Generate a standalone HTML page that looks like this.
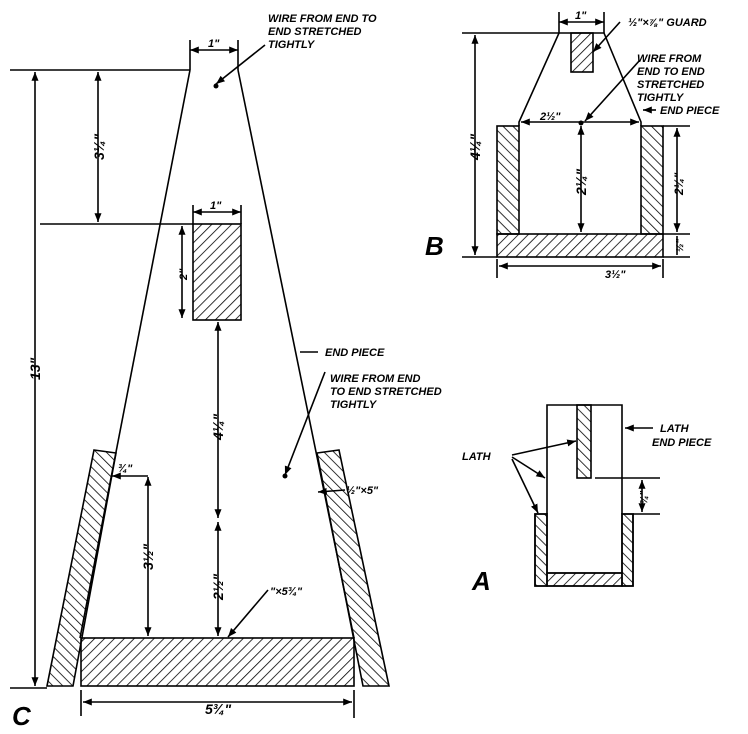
<!DOCTYPE html>
<html><head><meta charset="utf-8"><style>
body{margin:0;background:#fff}
svg{display:block}
text{font-family:"Liberation Sans",sans-serif;font-style:italic;font-weight:bold;fill:#000}
</style></head><body>
<svg width="748" height="734" viewBox="0 0 748 734" xmlns="http://www.w3.org/2000/svg">
<defs>
<pattern id="hf" width="7" height="7" patternUnits="userSpaceOnUse" patternTransform="rotate(45)"><line x1="0" y1="0" x2="0" y2="7" stroke="#000" stroke-width="1.6"/></pattern>
<pattern id="hb" width="7" height="7" patternUnits="userSpaceOnUse" patternTransform="rotate(-45)"><line x1="0" y1="0" x2="0" y2="7" stroke="#000" stroke-width="1.6"/></pattern>
<marker id="a" viewBox="0 0 10 10" refX="10" refY="5" markerWidth="5.5" markerHeight="5.5" orient="auto-start-reverse"><path d="M0,1 L10,5 L0,9 z" fill="#000"/></marker>
</defs>
<g stroke="#000" stroke-width="1.6" fill="none">
<!-- C -->
<line x1="190" y1="70" x2="80" y2="638"/>
<line x1="238" y1="70" x2="354" y2="638"/>
<polygon points="94,450 116,453 73,686 47,686" fill="url(#hb)"/>
<polygon points="317,453 339,450 389,686 363,686" fill="url(#hb)"/>
<rect x="81" y="638" width="273" height="48" fill="url(#hf)"/>
<rect x="193" y="224" width="48" height="96" fill="url(#hf)"/>
<line x1="10" y1="70" x2="190" y2="70"/>
<line x1="10" y1="688" x2="47" y2="688"/>
<line x1="35" y1="72" x2="35" y2="686" marker-start="url(#a)" marker-end="url(#a)"/>
<line x1="40" y1="224" x2="193" y2="224"/>
<line x1="98" y1="72" x2="98" y2="222" marker-start="url(#a)" marker-end="url(#a)"/>
<line x1="190" y1="40" x2="190" y2="70"/><line x1="238" y1="40" x2="238" y2="70"/>
<line x1="190" y1="50" x2="238" y2="50" marker-start="url(#a)" marker-end="url(#a)"/>
<line x1="193" y1="205" x2="193" y2="224"/><line x1="241" y1="205" x2="241" y2="224"/>
<line x1="193" y1="212" x2="241" y2="212" marker-start="url(#a)" marker-end="url(#a)"/>
<line x1="182" y1="226" x2="182" y2="318" marker-start="url(#a)" marker-end="url(#a)"/>
<line x1="218" y1="322" x2="218" y2="518" marker-start="url(#a)" marker-end="url(#a)"/>
<line x1="218" y1="522" x2="218" y2="636" marker-start="url(#a)" marker-end="url(#a)"/>
<line x1="148" y1="477" x2="148" y2="636" marker-start="url(#a)" marker-end="url(#a)"/>
<line x1="112" y1="476" x2="148" y2="476" marker-start="url(#a)"/>
<line x1="81" y1="690" x2="81" y2="716"/><line x1="354" y1="690" x2="354" y2="718"/>
<line x1="83" y1="702" x2="352" y2="702" marker-start="url(#a)" marker-end="url(#a)"/>
<line x1="265" y1="45" x2="216" y2="84" marker-end="url(#a)"/>
<line x1="325" y1="372" x2="285" y2="475" marker-end="url(#a)"/>
<line x1="345" y1="490" x2="318" y2="492" marker-end="url(#a)"/>
<line x1="268" y1="590" x2="228" y2="637" marker-end="url(#a)"/>
<line x1="318" y1="352" x2="300" y2="352"/>
<!-- B -->
<line x1="462" y1="33" x2="559" y2="33"/>
<line x1="462" y1="257" x2="497" y2="257"/>
<polyline points="519,126 519,122 559,33 604,33 641,122 641,126"/>
<rect x="571" y="33" width="22" height="39" fill="url(#hf)"/>
<rect x="497" y="126" width="22" height="108" fill="url(#hb)"/>
<rect x="641" y="126" width="22" height="108" fill="url(#hb)"/>
<rect x="497" y="234" width="166" height="23" fill="url(#hf)"/>
<line x1="475" y1="35" x2="475" y2="255" marker-start="url(#a)" marker-end="url(#a)"/>
<line x1="559" y1="12" x2="559" y2="33"/><line x1="604" y1="12" x2="604" y2="33"/>
<line x1="559" y1="22" x2="604" y2="22" marker-start="url(#a)" marker-end="url(#a)"/>
<line x1="521" y1="122" x2="639" y2="122" marker-start="url(#a)" marker-end="url(#a)"/>
<line x1="581" y1="126" x2="581" y2="232" marker-start="url(#a)" marker-end="url(#a)"/>
<line x1="663" y1="126" x2="690" y2="126"/><line x1="663" y1="234" x2="690" y2="234"/><line x1="663" y1="257" x2="690" y2="257"/>
<line x1="677" y1="128" x2="677" y2="232" marker-start="url(#a)" marker-end="url(#a)"/>
<line x1="677" y1="236" x2="677" y2="255"/>
<line x1="497" y1="259" x2="497" y2="278"/><line x1="663" y1="259" x2="663" y2="278"/>
<line x1="499" y1="266" x2="661" y2="266" marker-start="url(#a)" marker-end="url(#a)"/>
<line x1="620" y1="22" x2="593" y2="52" marker-end="url(#a)"/>
<line x1="640" y1="60" x2="585" y2="121" marker-end="url(#a)"/>
<line x1="656" y1="110" x2="643" y2="110" marker-end="url(#a)"/>
<!-- A -->
<polyline points="547,514 547,405 622,405 622,514"/>
<rect x="577" y="405" width="14" height="73" fill="url(#hb)"/>
<polygon points="535,514 547,514 547,573 622,573 622,514 633,514 633,586 535,586" fill="#fff"/>
<rect x="535" y="514" width="12" height="72" fill="url(#hb)"/>
<rect x="622" y="514" width="11" height="72" fill="url(#hb)"/>
<rect x="547" y="573" width="75" height="13" fill="url(#hf)"/>
<line x1="595" y1="478" x2="660" y2="478"/><line x1="633" y1="514" x2="660" y2="514"/>
<line x1="642" y1="480" x2="642" y2="512" marker-start="url(#a)" marker-end="url(#a)"/>
<line x1="653" y1="428" x2="625" y2="428" marker-end="url(#a)"/>
<line x1="512" y1="455" x2="576" y2="441" marker-end="url(#a)"/>
<line x1="512" y1="457" x2="545" y2="478" marker-end="url(#a)"/>
<line x1="512" y1="459" x2="538" y2="513" marker-end="url(#a)"/>
</g>
<circle cx="216" cy="86" r="2.5"/><circle cx="285" cy="476" r="2.5"/><circle cx="581" cy="123" r="2.5"/>
<g font-size="11">
<text x="268" y="22">WIRE FROM END TO</text>
<text x="268" y="35">END STRETCHED</text>
<text x="268" y="48">TIGHTLY</text>
<text x="325" y="356">END PIECE</text>
<text x="330" y="382">WIRE FROM END</text>
<text x="330" y="395">TO END STRETCHED</text>
<text x="330" y="408">TIGHTLY</text>
<text x="346" y="494">½"×5"</text>
<text x="270" y="595">"×5¾"</text>
<text x="628" y="26">½"×⅞" GUARD</text>
<text x="637" y="62">WIRE FROM</text>
<text x="637" y="75">END TO END</text>
<text x="637" y="88">STRETCHED</text>
<text x="637" y="101">TIGHTLY</text>
<text x="660" y="114">END PIECE</text>
<text x="660" y="432">LATH</text>
<text x="652" y="446">END PIECE</text>
<text x="462" y="460">LATH</text>
<text x="118" y="472">¾"</text>
<text x="540" y="120">2½"</text>
<text x="605" y="278">3½"</text>
<text x="208" y="47">1"</text>
<text x="210" y="209">1"</text>
<text x="575" y="19">1"</text>
<text x="205" y="714" font-size="14">5¾"</text>
</g>
<g font-size="14">
<text transform="translate(40,380) rotate(-90)">13"</text>
<text transform="translate(104,160) rotate(-90)">3¼"</text>
<text transform="translate(187,280) rotate(-90)" font-size="11">2"</text>
<text transform="translate(223,440) rotate(-90)">4¼"</text>
<text transform="translate(223,600) rotate(-90)">2½"</text>
<text transform="translate(153,570) rotate(-90)">3½"</text>
<text transform="translate(480,160) rotate(-90)">4¼"</text>
<text transform="translate(586,195) rotate(-90)">2¼"</text>
<text transform="translate(683,195) rotate(-90)" font-size="12">2¼"</text>
<text transform="translate(683,252) rotate(-90)" font-size="10">½"</text>
<text transform="translate(647,504) rotate(-90)" font-size="10">¾"</text>
</g>
<g font-size="26" font-weight="normal">
<text x="425" y="255">B</text>
<text x="472" y="590">A</text>
<text x="12" y="725">C</text>
</g>
</svg>
</body></html>
